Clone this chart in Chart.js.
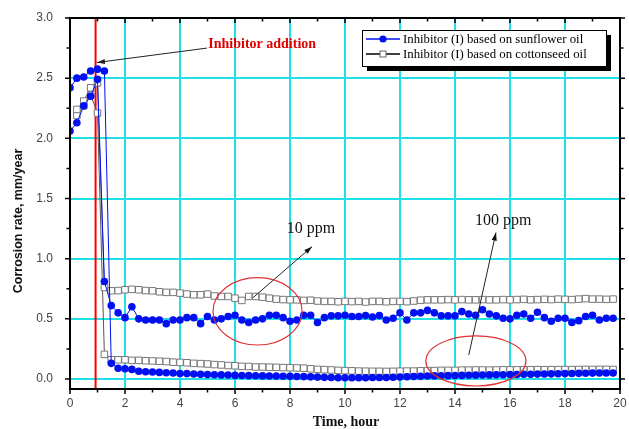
<!DOCTYPE html>
<html>
<head>
<meta charset="utf-8">
<script src="https://cdn.jsdelivr.net/npm/chart.js@4.4.1/dist/chart.umd.min.js"></script>
<style>
    html, body { margin: 0; padding: 0; background: #fff; }
    #wrap { width: 629px; height: 429px; }
</style>
</head>
<body>
<div id="wrap"><canvas id="chart" width="629" height="429"></canvas></div>
<script>
/* ---------- datos ---------- */

// tiempo, h (cada 15 min)
const TIEMPO = [
    0, 0.25, 0.5, 0.75, 1, 1.25, 1.5, 1.75, 2, 2.25, 2.5, 2.75, 3, 3.25, 3.5, 3.75,
    4, 4.25, 4.5, 4.75, 5, 5.25, 5.5, 5.75, 6, 6.25, 6.5, 6.75, 7, 7.25, 7.5, 7.75,
    8, 8.25, 8.5, 8.75, 9, 9.25, 9.5, 9.75, 10, 10.25, 10.5, 10.75, 11, 11.25, 11.5, 11.75,
    12, 12.25, 12.5, 12.75, 13, 13.25, 13.5, 13.75, 14, 14.25, 14.5, 14.75, 15, 15.25, 15.5, 15.75,
    16, 16.25, 16.5, 16.75, 17, 17.25, 17.5, 17.75, 18, 18.25, 18.5, 18.75, 19, 19.25, 19.5, 19.75
];

// girasol, 10 ppm
const GIRASOL_10 = [
    2.06, 2.13, 2.27, 2.35, 2.49, 0.81, 0.61, 0.55, 0.51, 0.60, 0.50, 0.49, 0.49, 0.49, 0.46, 0.49,
    0.49, 0.51, 0.51, 0.46, 0.52, 0.49, 0.50, 0.52, 0.53, 0.49, 0.47, 0.49, 0.50, 0.53, 0.53, 0.51,
    0.48, 0.49, 0.53, 0.53, 0.47, 0.51, 0.525, 0.525, 0.53, 0.52, 0.52, 0.527, 0.515, 0.527, 0.49, 0.505,
    0.55, 0.49, 0.55, 0.55, 0.57, 0.55, 0.525, 0.525, 0.525, 0.56, 0.54, 0.53, 0.575, 0.54, 0.525, 0.505,
    0.50, 0.53, 0.54, 0.505, 0.555, 0.51, 0.48, 0.505, 0.505, 0.47, 0.485, 0.52, 0.53, 0.49, 0.505, 0.505
];

// girasol, 100 ppm
const GIRASOL_100 = [
    2.42, 2.50, 2.51, 2.56, 2.575, 2.56, 0.13, 0.09, 0.085, 0.08, 0.065, 0.06, 0.058, 0.055, 0.052, 0.05,
    0.046, 0.045, 0.042, 0.04, 0.038, 0.036, 0.034, 0.033, 0.03, 0.029, 0.028, 0.027, 0.026, 0.025, 0.024, 0.023,
    0.022, 0.021, 0.02, 0.018, 0.016, 0.014, 0.012, 0.011, 0.01, 0.01, 0.011, 0.011, 0.012, 0.012, 0.013, 0.015,
    0.017, 0.019, 0.021, 0.022, 0.025, 0.026, 0.027, 0.028, 0.029, 0.03, 0.031, 0.032, 0.033, 0.034, 0.035, 0.036,
    0.037, 0.038, 0.039, 0.04, 0.041, 0.042, 0.043, 0.044, 0.045, 0.046, 0.047, 0.048, 0.049, 0.05, 0.05, 0.05
];

// algodón, 10 ppm
const ALGODON_10 = [
    null, 2.24, 2.31, 2.42, 2.46, 0.76, 0.733, 0.735, 0.742, 0.745, 0.742, 0.735, 0.733, 0.725, 0.72, 0.72,
    0.714, 0.706, 0.70, 0.70, 0.706, 0.69, 0.686, 0.686, 0.672, 0.653, 0.686, 0.686, 0.68, 0.672, 0.664, 0.66,
    0.658, 0.658, 0.653, 0.655, 0.648, 0.645, 0.645, 0.642, 0.645, 0.643, 0.645, 0.64, 0.645, 0.645, 0.642, 0.645,
    0.645, 0.643, 0.648, 0.655, 0.658, 0.658, 0.658, 0.66, 0.658, 0.66, 0.658, 0.658, 0.66, 0.658, 0.658, 0.66,
    0.658, 0.66, 0.662, 0.658, 0.66, 0.662, 0.66, 0.664, 0.662, 0.66, 0.664, 0.668, 0.664, 0.664, 0.662, 0.664
];

// algodón, 100 ppm
const ALGODON_100 = [
    null, 2.19, 2.27, 2.36, 2.21, 0.205, 0.16, 0.16, 0.16, 0.155, 0.155, 0.152, 0.15, 0.148, 0.145, 0.14,
    0.138, 0.135, 0.13, 0.128, 0.125, 0.12, 0.117, 0.112, 0.11, 0.105, 0.104, 0.10, 0.10, 0.098, 0.097, 0.095,
    0.094, 0.092, 0.09, 0.085, 0.08, 0.078, 0.075, 0.072, 0.07, 0.068, 0.066, 0.065, 0.064, 0.064, 0.063, 0.064,
    0.065, 0.066, 0.066, 0.068, 0.07, 0.07, 0.072, 0.072, 0.072, 0.074, 0.074, 0.075, 0.075, 0.074, 0.075, 0.076,
    0.076, 0.076, 0.077, 0.077, 0.078, 0.077, 0.078, 0.078, 0.079, 0.078, 0.079, 0.08, 0.079, 0.08, 0.08, 0.079
];

const X_TICKS = [0, 2, 4, 6, 8, 10, 12, 14, 16, 18, 20];
const Y_TICKS = [0, 0.5, 1.0, 1.5, 2.0, 2.5, 3.0];

const LEYENDA = [
    "Inhibitor (I) based on sunflower oil",
    "Inhibitor (I) based on cottonseed oil"
];

/* ---------- estilos ---------- */
const CIAN = "#1fe0e6";
const AZUL = "#0010f0";
const SERIF = "'Liberation Serif', 'Times New Roman', serif";
const SANS = "'Liberation Sans', Arial, sans-serif";

function puntos(valores) {
    const out = [];
    for (let i = 0; i < TIEMPO.length; i++) {
        if (valores[i] === null || valores[i] === undefined) continue;
        out.push({ x: TIEMPO[i], y: valores[i] });
    }
    return out;
}

function serieGirasol(valores) {
    return {
        data: puntos(valores),
        borderColor: AZUL,
        backgroundColor: AZUL,
        borderWidth: 1,
        pointStyle: "circle",
        pointRadius: 3.8,
        pointBorderWidth: 0,
        pointBackgroundColor: AZUL,
        tension: 0
    };
}

function serieAlgodon(valores) {
    return {
        data: puntos(valores),
        borderColor: "#555",
        backgroundColor: "#fff",
        borderWidth: 1,
        pointStyle: "rect",
        pointRadius: 4.6,
        pointBorderWidth: 1,
        pointBorderColor: "#777",
        pointBackgroundColor: "#fff",
        tension: 0
    };
}

/* ---------- dibujo extra: marco, anotaciones, leyenda ---------- */
function flecha(ctx, x1, y1, x2, y2) {
    ctx.beginPath();
    ctx.moveTo(x1, y1);
    ctx.lineTo(x2, y2);
    ctx.stroke();
    const a = Math.atan2(y2 - y1, x2 - x1);
    const L = 8, W = 2.6;
    ctx.beginPath();
    ctx.moveTo(x2, y2);
    ctx.lineTo(x2 - L * Math.cos(a) + W * Math.sin(a), y2 - L * Math.sin(a) - W * Math.cos(a));
    ctx.lineTo(x2 - L * Math.cos(a) - W * Math.sin(a), y2 - L * Math.sin(a) + W * Math.cos(a));
    ctx.closePath();
    ctx.fill();
}

const decorPlugin = {
    id: "decor",
    beforeDatasetsDraw(chart) {
        const { ctx, chartArea: a, scales: { x } } = chart;
        // linea roja: adición de inhibidor
        ctx.save();
        ctx.strokeStyle = "#ff0000";
        ctx.lineWidth = 2;
        const px = x.getPixelForValue(0.93);
        ctx.beginPath();
        ctx.moveTo(px, a.top);
        ctx.lineTo(px, a.bottom);
        ctx.stroke();
        ctx.restore();
    },
    afterDraw(chart) {
        const { ctx, chartArea: a, scales: { x, y } } = chart;
        ctx.save();

        // marco
        ctx.strokeStyle = "#000";
        ctx.lineWidth = 2;
        ctx.strokeRect(a.left, a.top, a.right - a.left, a.bottom - a.top);

        // marcas de eje
        ctx.lineWidth = 1.5;
        ctx.beginPath();
        for (let t = 0; t <= 20; t++) {
            const px = x.getPixelForValue(t);
            const len = t % 2 === 0 ? 5 : 3.5;
            ctx.moveTo(px, a.bottom);
            ctx.lineTo(px, a.bottom + len);
            ctx.moveTo(px, a.top);
            ctx.lineTo(px, a.top + len);
        }
        for (let k = 0; k <= 12; k++) {
            const py = y.getPixelForValue(k * 0.25);
            const len = k % 2 === 0 ? 5 : 3.5;
            ctx.moveTo(a.left - len, py);
            ctx.lineTo(a.left, py);
            ctx.moveTo(a.right, py);
            ctx.lineTo(a.right + len, py);
        }
        ctx.stroke();

        // títulos de ejes
        ctx.fillStyle = "#111";
        ctx.font = "bold 14px " + SERIF;
        ctx.textAlign = "center";
        ctx.textBaseline = "middle";
        ctx.fillText("Time, hour", 346, 422);

        ctx.save();
        ctx.translate(19, 221);
        ctx.rotate(-Math.PI / 2);
        ctx.font = "bold 12.5px " + SANS;
        ctx.fillText("Corrosion rate, mm/year", 0, 0);
        ctx.restore();

        // anotación: adición de inhibidor
        ctx.fillStyle = "#e00000";
        ctx.font = "bold 14px " + SERIF;
        ctx.textAlign = "left";
        ctx.fillText("Inhibitor addition", x.getPixelForValue(5.03), y.getPixelForValue(2.78));

        ctx.strokeStyle = "#222";
        ctx.fillStyle = "#222";
        ctx.lineWidth = 1;
        flecha(ctx, x.getPixelForValue(4.98), y.getPixelForValue(2.75),
                    x.getPixelForValue(0.98), y.getPixelForValue(2.63));

        // 10 ppm
        ctx.fillStyle = "#111";
        ctx.font = "16px " + SERIF;
        ctx.textAlign = "center";
        ctx.fillText("10 ppm", x.getPixelForValue(8.76), y.getPixelForValue(1.25));
        flecha(ctx, x.getPixelForValue(6.65), y.getPixelForValue(0.675),
                    x.getPixelForValue(8.8), y.getPixelForValue(1.10));

        // 100 ppm
        ctx.fillText("100 ppm", x.getPixelForValue(15.75), y.getPixelForValue(1.317));
        flecha(ctx, x.getPixelForValue(14.5), y.getPixelForValue(0.2),
                    x.getPixelForValue(15.49), y.getPixelForValue(1.217));

        // elipses rojas
        ctx.strokeStyle = "#e03030";
        ctx.lineWidth = 1.2;
        const elipses = [
            { cx: 6.82, cy: 0.5625, rx: 1.62, ry: 0.28 },
            { cx: 14.76, cy: 0.15, rx: 1.82, ry: 0.208 }
        ];
        for (const e of elipses) {
            const cx = x.getPixelForValue(e.cx);
            const cy = y.getPixelForValue(e.cy);
            const rx = x.getPixelForValue(e.cx + e.rx) - cx;
            const ry = cy - y.getPixelForValue(e.cy + e.ry);
            ctx.beginPath();
            ctx.ellipse(cx, cy, rx, ry, 0, 0, Math.PI * 2);
            ctx.stroke();
        }

        // leyenda
        const lx = 362, ly = 30, lw = 244, lh = 36;
        ctx.fillStyle = "#000";
        ctx.fillRect(lx + 5, ly + 5, lw, lh);
        ctx.fillStyle = "#fff";
        ctx.fillRect(lx, ly, lw, lh);
        ctx.strokeStyle = "#000";
        ctx.lineWidth = 1;
        ctx.strokeRect(lx + 0.5, ly + 0.5, lw, lh);

        const filas = [ly + 9, ly + 24];
        // girasol
        ctx.strokeStyle = AZUL;
        ctx.lineWidth = 1.5;
        ctx.beginPath();
        ctx.moveTo(lx + 4, filas[0]);
        ctx.lineTo(lx + 38, filas[0]);
        ctx.stroke();
        ctx.fillStyle = AZUL;
        ctx.beginPath();
        ctx.arc(lx + 21, filas[0], 3.6, 0, Math.PI * 2);
        ctx.fill();
        // algodón
        ctx.strokeStyle = "#000";
        ctx.beginPath();
        ctx.moveTo(lx + 4, filas[1]);
        ctx.lineTo(lx + 38, filas[1]);
        ctx.stroke();
        ctx.fillStyle = "#fff";
        ctx.fillRect(lx + 18, filas[1] - 3, 6, 6);
        ctx.strokeStyle = "#666";
        ctx.lineWidth = 1;
        ctx.strokeRect(lx + 18, filas[1] - 3, 6, 6);

        ctx.fillStyle = "#000";
        ctx.font = "12.8px " + SERIF;
        ctx.textAlign = "left";
        ctx.fillText(LEYENDA[0], lx + 41, filas[0] + 1);
        ctx.fillText(LEYENDA[1], lx + 41, filas[1] + 1);

        ctx.restore();
    }
};

/* ---------- gráfico ---------- */
new Chart(document.getElementById("chart"), {
    type: "scatter",
    data: {
        datasets: [
            serieGirasol(GIRASOL_10),
            serieGirasol(GIRASOL_100),
            serieAlgodon(ALGODON_10),
            serieAlgodon(ALGODON_100)
        ].map(d => Object.assign(d, { showLine: true }))
    },
    options: {
        responsive: false,
        animation: false,
        layout: { padding: { top: 18, right: 9, left: 0, bottom: 0 } },
        plugins: {
            legend: { display: false },
            tooltip: { enabled: false }
        },
        scales: {
            x: {
                type: "linear",
                min: 0,
                max: 20,
                afterBuildTicks: s => { s.ticks = X_TICKS.map(v => ({ value: v })); },
                afterFit: s => {
                    s.height = 40;
                    s.paddingLeft = 0;
                    s.paddingRight = 0;
                },
                border: { display: false },
                grid: {
                    drawTicks: false,
                    lineWidth: 2,
                    color: c => (c.tick && (c.tick.value === 0 || c.tick.value === 20)) ? "rgba(0,0,0,0)" : CIAN
                },
                ticks: {
                    padding: 7,
                    color: "#444",
                    font: { family: SANS, size: 12 },
                    maxRotation: 0,
                    callback: v => String(v)
                }
            },
            y: {
                type: "linear",
                min: -0.083,
                max: 3.0,
                afterBuildTicks: s => { s.ticks = Y_TICKS.map(v => ({ value: v })); },
                afterFit: s => {
                    s.width = 70;
                    s.paddingTop = 0;
                    s.paddingBottom = 0;
                },
                border: { display: false },
                grid: {
                    drawTicks: false,
                    lineWidth: 2,
                    color: c => (c.tick && c.tick.value === 3.0) ? "rgba(0,0,0,0)" : CIAN
                },
                ticks: {
                    padding: 17,
                    color: "#444",
                    font: { family: SANS, size: 12 },
                    callback: v => Number(v).toFixed(1)
                }
            }
        }
    },
    plugins: [decorPlugin]
});
</script>
</body>
</html>
